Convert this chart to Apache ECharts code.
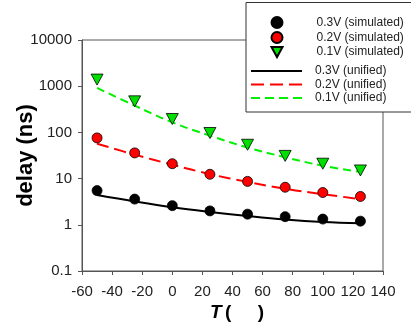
<!DOCTYPE html>
<html>
<head>
<meta charset="utf-8">
<script src="https://cdn.jsdelivr.net/npm/echarts@6/dist/echarts.min.js"></script>
<style>
  html, body { margin: 0; padding: 0; background: #fff; }
  #chart { width: 411px; height: 329px; }
</style>
</head>
<body>
<div id="chart"></div>
<script>
// temperature in C
const temps = [-50, -25, 0, 25, 50, 75, 100, 125]

// simulated delay (ns)
const sim03 = [5.5, 3.6, 2.6, 2.0, 1.7, 1.5, 1.33, 1.2]
const sim02 = [76, 36, 21, 12.4, 8.7, 6.5, 5.0, 4.1]
const sim01 = [1390, 470, 195, 97, 54, 31, 21, 15]

// unified model delay (ns)
const uni03 = [4.4, 3.2, 2.4, 1.9, 1.55, 1.3, 1.15, 1.08]
const uni02 = [57, 33, 20, 12.5, 8.5, 6.0, 4.6, 3.6]
const uni01 = [920, 380, 165, 85, 47, 29, 19, 14]

const yTicks = [0.1, 1, 10, 100, 1000, 10000]

const pair = arr => arr.map((v, i) => [temps[i], v])
const font = 'Liberation Sans, Arial, sans-serif'

// icons
const downTriangle = 'path://M0,0L12,0L6,11Z'
const solidIcon = 'path://M0,0h51v2h-51z'
const redDashIcon = 'path://M0,0h13v2h-13z M19,0h13v2h-13z M38,0h13v2h-13z'
const greenDashIcon = 'path://M0,0h9v2h-9z M14,0h9v2h-9z M28,0h9v2h-9z M42,0h9v2h-9z'

const chart = echarts.init(document.getElementById('chart'))

const scatter = (name, data, color, symbol) => ({
  name,
  type: 'scatter',
  data: pair(data),
  symbol,
  symbolSize: symbol === 'circle' ? 10 : [12, 11],
  itemStyle: { color, borderColor: '#000', borderWidth: 0.8, opacity: 1 },
  z: 5,
})

const line = (name, data, color, dash) => ({
  name,
  type: 'line',
  data: pair(data),
  symbol: 'none',
  smooth: 0.4,
  itemStyle: { color },
  lineStyle: { color, width: 2, type: dash },
  z: 3,
})

chart.setOption({
  animation: false,
  textStyle: { fontFamily: font },
  grid: {
    left: 82, top: 40, right: 28, bottom: 58,
    outerBoundsMode: 'none',
    containLabel: false,
    show: true, borderColor: '#555', borderWidth: 1,
  },
  graphic: [{
    type: 'rect',
    shape: { x: 246, y: 2.5, width: 180, height: 109.5 },
    style: { fill: '#fff', stroke: '#333', lineWidth: 1 },
    z: 100,
  }],
  legend: [{
    data: [
      { name: '0.3V (simulated)', icon: 'circle' },
      { name: '0.2V (simulated)', icon: 'circle' },
      { name: '0.1V (simulated)', icon: downTriangle },
    ],
    orient: 'vertical',
    left: 265.5, top: 11,
    itemWidth: 11, itemHeight: 11,
    itemGap: 2,
    textStyle: { fontSize: 12, color: '#222', padding: [0, 0, 0, 29] },
    z: 101,
  }, {
    data: [
      { name: '0.3V (unified)', icon: solidIcon },
      { name: '0.2V (unified)', icon: redDashIcon },
      { name: '0.1V (unified)', icon: greenDashIcon },
    ],
    orient: 'vertical',
    left: 246, top: 60,
    itemWidth: 51, itemHeight: 2,
    itemGap: 1.5,
    textStyle: { fontSize: 12, color: '#222', padding: [0, 0, 0, 8] },
    z: 101,
  }],
  xAxis: {
    type: 'value',
    min: -60, max: 140, interval: 20,
    name: '{i|T} {b|(     )}',
    nameLocation: 'middle',
    nameGap: 32,
    nameMoveOverlap: false,
    nameTextStyle: {
      rich: {
        i: { fontSize: 19, fontWeight: 'bold', fontStyle: 'italic', fontFamily: font, color: '#000', padding: [0, 0, 0, 9] },
        b: { fontSize: 19, fontWeight: 'bold', fontFamily: font, color: '#000' },
      },
    },
    axisLine: { onZero: false, lineStyle: { color: '#555' } },
    axisTick: { inside: false, length: 4, lineStyle: { color: '#555' } },
    axisLabel: { fontSize: 15, color: '#222', margin: 13 },
    splitLine: { show: false },
  },
  yAxis: {
    type: 'log',
    logBase: 10,
    min: yTicks[0], max: yTicks[yTicks.length - 1],
    name: 'delay (ns)',
    nameLocation: 'middle',
    nameGap: 45,
    nameMoveOverlap: false,
    nameTextStyle: { fontSize: 22, fontWeight: 'bold', color: '#000', fontFamily: font },
    axisLine: { show: true, onZero: false, lineStyle: { color: '#555' } },
    axisTick: { inside: false, length: 4, lineStyle: { color: '#555' } },
    axisLabel: {
      fontSize: 15, color: '#222', margin: 10,
      formatter: v => String(yTicks.find(t => Math.abs(Math.log10(t) - Math.log10(v)) < 1e-6) ?? v),
    },
    splitLine: { show: false },
  },
  series: [
    scatter('0.3V (simulated)', sim03, '#000000', 'circle'),
    scatter('0.2V (simulated)', sim02, '#ff0000', 'circle'),
    scatter('0.1V (simulated)', sim01, '#00e000', downTriangle),
    line('0.3V (unified)', uni03, '#000000', 'solid'),
    line('0.2V (unified)', uni02, '#ff0000', [12, 6]),
    line('0.1V (unified)', uni01, '#00f000', [8, 5]),
  ],
})
</script>
</body>
</html>
